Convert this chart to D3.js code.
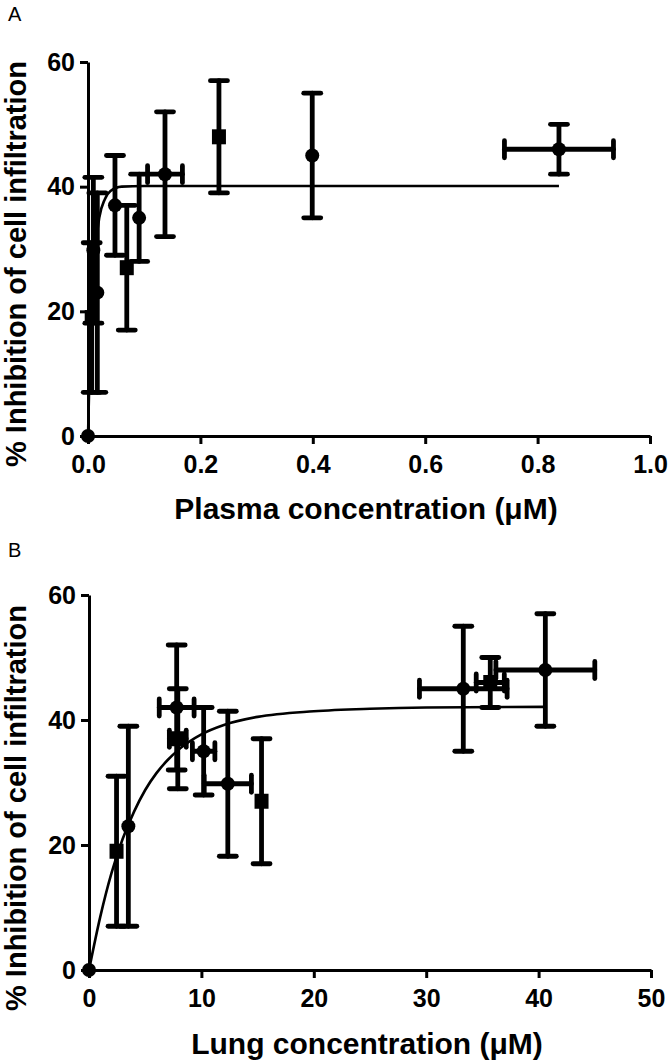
<!DOCTYPE html>
<html><head><meta charset="utf-8">
<script src="https://cdn.jsdelivr.net/npm/d3@7"></script>
<style>
html,body{margin:0;padding:0;background:#fff;}
text{font-family:"Liberation Sans",Arial,sans-serif;}
</style></head>
<body><svg id="c" width="670" height="1064"></svg>
<script>
// ---- Panel A: plasma concentration ----
const plasmaX    = [0, 0.0066, 0.0166, 0.0095, 0.048, 0.069, 0.091, 0.137, 0.233, 0.399, 0.838];
const plasmaY    = [0, 19, 23, 29.8, 37, 27, 35, 42, 48, 45, 46];
const plasmaYErr = [0, 12, 16, 11.7, 8, 10, 7, 10, 9, 10, 4];
const plasmaXErr = [0, 0, 0, 0, 0, 0, 0, 0.031, 0, 0, 0.097];
const plasmaShape= ["circle","square","circle","circle","circle","square","circle","circle","square","circle","circle"];
const plasmaFitX = [0, 0.002, 0.004, 0.006, 0.01, 0.015, 0.02, 0.03, 0.04, 0.06, 0.1, 0.3, 0.838];
const plasmaFitY = [0, 7.5, 14, 19, 26, 31.5, 35, 38, 39.3, 40, 40.1, 40.1, 40.1];
const plasmaTicks= [0, 0.2, 0.4, 0.6, 0.8, 1.0];

// ---- Panel B: lung concentration ----
const lungX     = [0, 2.45, 3.5, 7.8, 7.9, 10.2, 12.35, 15.35, 33.3, 35.7, 40.6];
const lungY     = [0, 19, 23, 42, 37, 35, 29.8, 27, 45, 46, 48];
const lungYErr  = [0, 12, 16, 10, 8, 7, 11.6, 10, 10, 4, 9];
const lungXErr  = [0, 0, 0, 1.55, 0.75, 1.0, 2.1, 0, 3.9, 1.25, 4.4];
const lungShape = ["circle","square","circle","circle","square","circle","circle","square","circle","square","circle"];
const lungFitX  = [0, 1, 2, 3, 4, 5, 6, 7, 8, 10, 12, 15, 20, 25, 30, 40.6];
const lungFitY  = [0, 8.5, 15.5, 21, 25.3, 28.8, 31.5, 33.6, 35.3, 37.7, 39.2, 40.5, 41.4, 41.8, 42, 42.1];
const lungTicks = [0, 10, 20, 30, 40, 50];

const yTicks = [0, 20, 40, 60];

const svg = d3.select("#c");
const FONT = "'Liberation Sans',Arial,sans-serif";

function panel(cfg){
  const g = svg.append("g");
  const x = d3.scaleLinear().domain(cfg.xDomain).range(cfg.xRange);
  const y = d3.scaleLinear().domain([0,60]).range(cfg.yRange);

  // fitted curve
  const pts = cfg.fitX.map((v,i)=>[v,cfg.fitY[i]]);
  g.append("path").datum(pts)
    .attr("d", d3.line().x(d=>x(d[0])).y(d=>y(d[1])).curve(d3.curveMonotoneX))
    .attr("fill","none").attr("stroke","#000").attr("stroke-width",2.6);

  const data = cfg.xs.map((v,i)=>({x:v,y:cfg.ys[i],ye:cfg.yErr[i],xe:cfg.xErr[i],s:cfg.shape[i]}));
  const eb = g.append("g").attr("stroke","#000").attr("stroke-width",4.8).attr("stroke-linecap","round").attr("fill","none");
  const cap = 8.5;
  data.forEach(d=>{
    if(d.ye>0){
      eb.append("line").attr("x1",x(d.x)).attr("x2",x(d.x)).attr("y1",y(d.y-d.ye)).attr("y2",y(d.y+d.ye));
      eb.append("line").attr("x1",x(d.x)-cap).attr("x2",x(d.x)+cap).attr("y1",y(d.y+d.ye)).attr("y2",y(d.y+d.ye));
      eb.append("line").attr("x1",x(d.x)-cap).attr("x2",x(d.x)+cap).attr("y1",y(d.y-d.ye)).attr("y2",y(d.y-d.ye));
    }
    if(d.xe>0){
      eb.append("line").attr("x1",x(d.x-d.xe)).attr("x2",x(d.x+d.xe)).attr("y1",y(d.y)).attr("y2",y(d.y));
      eb.append("line").attr("x1",x(d.x-d.xe)).attr("x2",x(d.x-d.xe)).attr("y1",y(d.y)-cap).attr("y2",y(d.y)+cap);
      eb.append("line").attr("x1",x(d.x+d.xe)).attr("x2",x(d.x+d.xe)).attr("y1",y(d.y)-cap).attr("y2",y(d.y)+cap);
    }
  });

  // axes
  const ax = g.append("g").attr("transform",`translate(0,${cfg.yRange[0]})`)
    .call(d3.axisBottom(x).tickValues(cfg.ticks).tickFormat(cfg.fmt).tickSize(8).tickSizeOuter(0).tickPadding(11));
  const ay = g.append("g").attr("transform",`translate(${cfg.xRange[0]},0)`)
    .call(d3.axisLeft(y).tickValues(yTicks).tickFormat(d3.format("d")).tickSize(8).tickSizeOuter(0).tickPadding(5));
  [ax,ay].forEach(a=>{
    a.select(".domain").attr("stroke-width",3).attr("stroke","#000");
    a.selectAll(".tick line").attr("stroke-width",3).attr("stroke","#000");
    a.selectAll(".tick text").attr("font-family",FONT).attr("font-size",25).attr("font-weight","bold").attr("fill","#000");
  });

  // markers
  const mk = g.append("g").attr("fill","#000");
  data.forEach(d=>{
    if(d.s==="circle") mk.append("circle").attr("cx",x(d.x)).attr("cy",y(d.y)).attr("r",7);
    else mk.append("rect").attr("x",x(d.x)-7).attr("y",y(d.y)-7.5).attr("width",14).attr("height",15);
  });

  // titles
  g.append("text").attr("x",(cfg.xRange[0]+cfg.xRange[1])/2 - 3).attr("y",cfg.xTitleY)
    .attr("text-anchor","middle").attr("font-family",FONT).attr("font-size",30).attr("font-weight","bold")
    .text(cfg.xTitle);
  g.append("text").attr("transform",`translate(26,${cfg.yTitleC}) rotate(-90)`)
    .attr("text-anchor","middle").attr("font-family",FONT).attr("font-size",29).attr("font-weight","bold")
    .text("% Inhibition of cell infiltration");
  g.append("text").attr("x",8).attr("y",cfg.labY).attr("font-family",FONT).attr("font-size",20).text(cfg.lab);
}

panel({xDomain:[0,1], xRange:[88,650], yRange:[436,62], xs:plasmaX, ys:plasmaY, yErr:plasmaYErr, xErr:plasmaXErr,
  shape:plasmaShape, fitX:plasmaFitX, fitY:plasmaFitY, ticks:plasmaTicks, fmt:d3.format(".1f"),
  xTitle:"Plasma concentration (\u03BCM)", xTitleY:519, yTitleC:264, lab:"A", labY:21});
panel({xDomain:[0,50], xRange:[89,651], yRange:[970,595], xs:lungX, ys:lungY, yErr:lungYErr, xErr:lungXErr,
  shape:lungShape, fitX:lungFitX, fitY:lungFitY, ticks:lungTicks, fmt:d3.format("d"),
  xTitle:"Lung concentration (\u03BCM)", xTitleY:1054, yTitleC:808, lab:"B", labY:557});
</script></body></html>
